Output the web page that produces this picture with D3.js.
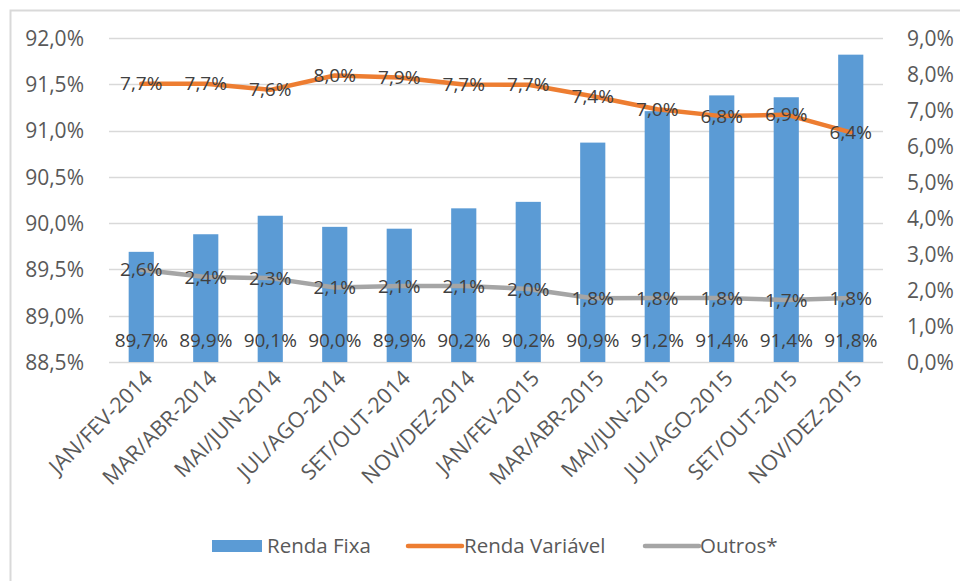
<!DOCTYPE html>
<html>
<head>
<meta charset="utf-8">
<script src="https://cdn.jsdelivr.net/npm/d3@7"></script>
<style>
    body { margin: 0; background: #fff; }
    svg text { font-family: "Open Sans", "Liberation Sans", sans-serif; }
</style>
</head>
<body>
<div id="chart"></div>
<script>
(function() {
    var categories = ["JAN/FEV-2014", "MAR/ABR-2014", "MAI/JUN-2014", "JUL/AGO-2014", "SET/OUT-2014", "NOV/DEZ-2014",
                      "JAN/FEV-2015", "MAR/ABR-2015", "MAI/JUN-2015", "JUL/AGO-2015", "SET/OUT-2015", "NOV/DEZ-2015"];
    var rendaFixa = [89.69, 89.88, 90.08, 89.96, 89.94, 90.16, 90.23, 90.87, 91.21, 91.38, 91.36, 91.82];
    var rendaVariavel = [7.73, 7.73, 7.56, 7.96, 7.90, 7.71, 7.70, 7.38, 7.02, 6.83, 6.87, 6.38];
    var outros = [2.56, 2.36, 2.33, 2.07, 2.11, 2.11, 2.03, 1.77, 1.78, 1.78, 1.72, 1.78];
    var leftTicks = [88.5, 89.0, 89.5, 90.0, 90.5, 91.0, 91.5, 92.0];
    var rightTicks = [0, 1, 2, 3, 4, 5, 6, 7, 8, 9];
    var seriesNames = ["Renda Fixa", "Renda Variável", "Outros*"];

    var colors = { fixa: "#5b9bd5", variavel: "#ed7d31", outros: "#a5a5a5" };

    var width = 960, height = 581;
    var margin = {top: 38, right: 77, bottom: 219, left: 109};

    var svg = d3.select("#chart").append("svg")
        .attr("width", width)
        .attr("height", height);

    // chart frame, cut off by the picture edges
    svg.append("rect")
        .attr("x", 10.5)
        .attr("y", 10.5)
        .attr("width", 1000)
        .attr("height", 1000)
        .style("fill", "none")
        .style("stroke", "#d9d9d9")
        .style("stroke-width", 2);

    var x = d3.scaleBand().domain(categories).range([margin.left, width - margin.right]).padding(0);
    var yLeft = d3.scaleLinear().domain([88.5, 92]).range([height - margin.bottom, margin.top]);
    var yRight = d3.scaleLinear().domain([0, 9]).range([height - margin.bottom, margin.top]);
    var barWidth = x.bandwidth() * 0.39;

    var fmt = function(v) { return v.toFixed(1).replace(".", ",") + "%"; };

    // gridlines
    svg.append("g").classed("grid", true)
        .selectAll("line")
        .data(leftTicks)
        .enter()
        .append("line")
            .attr("x1", margin.left)
            .attr("x2", width - margin.right)
            .attr("y1", function(d) { return Math.round(yLeft(d)) + 0.5; })
            .attr("y2", function(d) { return Math.round(yLeft(d)) + 0.5; })
            .style("stroke", "#d9d9d9")
            .style("stroke-width", 1.3);

    // left axis
    var leftAxis = svg.append("g")
        .attr("transform", "translate(" + (margin.left - 22) + ",0)")
        .call(d3.axisLeft(yLeft).tickValues(leftTicks).tickSize(0).tickFormat(fmt));
    leftAxis.select(".domain").remove();
    leftAxis.selectAll("text")
        .style("font-size", "21px")
        .style("fill", "#595959")
        .attr("dy", "0.35em");

    // right axis
    var rightAxis = svg.append("g")
        .attr("transform", "translate(" + (width - margin.right + 21) + ",0)")
        .call(d3.axisRight(yRight).tickValues(rightTicks).tickSize(0).tickFormat(fmt));
    rightAxis.select(".domain").remove();
    rightAxis.selectAll("text")
        .style("font-size", "21px")
        .style("fill", "#595959")
        .attr("dy", "0.35em");

    // category labels
    var xAxis = svg.append("g")
        .attr("transform", "translate(0," + (height - margin.bottom) + ")")
        .call(d3.axisBottom(x).tickSize(0));
    xAxis.select(".domain").remove();
    xAxis.selectAll("text")
        .style("font-size", "21.5px")
        .style("fill", "#595959")
        .style("text-anchor", "end")
        .attr("dy", "0.35em")
        .attr("transform", "translate(5,10) rotate(-45)");

    // bars
    svg.append("g").classed("bars", true)
        .selectAll("rect")
        .data(rendaFixa)
        .enter()
        .append("rect")
            .attr("x", function(d, i) { return x(categories[i]) + (x.bandwidth() - barWidth) / 2; })
            .attr("y", function(d) { return yLeft(d); })
            .attr("width", barWidth)
            .attr("height", function(d) { return yLeft(88.5) - yLeft(d); })
            .style("fill", colors.fixa);

    function drawLine(values, color) {
        var line = d3.line()
            .x(function(d, i) { return x(categories[i]) + x.bandwidth() / 2; })
            .y(function(d) { return yRight(d); });
        svg.append("path")
            .datum(values)
            .attr("d", line)
            .style("fill", "none")
            .style("stroke", color)
            .style("stroke-width", 4.5)
            .style("stroke-linejoin", "round")
            .style("stroke-linecap", "round");
    }

    drawLine(outros, colors.outros);
    drawLine(rendaVariavel, colors.variavel);

    // data labels
    function drawLabels(values, yFn) {
        svg.append("g").classed("data-labels", true)
            .selectAll("text")
            .data(values)
            .enter()
            .append("text")
                .attr("x", function(d, i) { return x(categories[i]) + x.bandwidth() / 2; })
                .attr("y", yFn)
                .attr("dy", "0.35em")
                .style("text-anchor", "middle")
                .style("font-size", "19px")
                .style("fill", "#404040")
                .text(fmt);
    }

    drawLabels(rendaFixa, function() { return yLeft(88.5) - 22; });
    drawLabels(rendaVariavel, function(d) { return yRight(d); });
    drawLabels(outros, function(d) { return yRight(d); });

    // legend
    var legendY = 546;
    var legend = svg.append("g").classed("legend", true);
    legend.append("rect")
        .attr("x", 212).attr("y", legendY - 6)
        .attr("width", 50).attr("height", 12)
        .style("fill", colors.fixa);
    legend.append("line")
        .attr("x1", 408).attr("x2", 462)
        .attr("y1", legendY).attr("y2", legendY)
        .style("stroke", colors.variavel).style("stroke-width", 4.5).style("stroke-linecap", "round");
    legend.append("line")
        .attr("x1", 645).attr("x2", 699)
        .attr("y1", legendY).attr("y2", legendY)
        .style("stroke", colors.outros).style("stroke-width", 4.5).style("stroke-linecap", "round");

    var legendTextX = [267, 464, 700];
    legend.selectAll("text")
        .data(seriesNames)
        .enter()
        .append("text")
            .attr("x", function(d, i) { return legendTextX[i]; })
            .attr("y", legendY)
            .attr("dy", "0.35em")
            .style("font-size", "20.5px")
            .style("fill", "#595959")
            .text(function(d) { return d; });
})()
</script>
</body>
</html>
